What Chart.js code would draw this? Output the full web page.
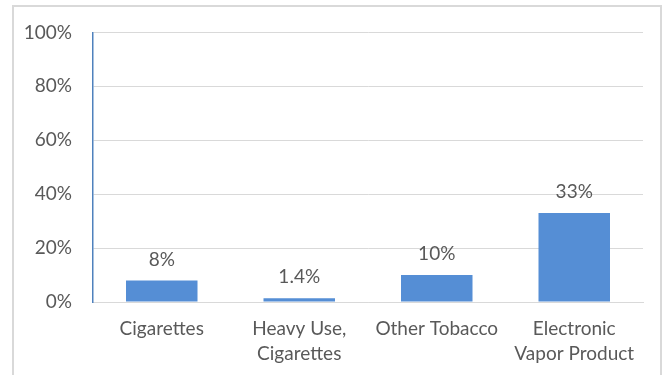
<!DOCTYPE html>
<html>
<head>
<meta charset="utf-8">
<script src="https://cdn.jsdelivr.net/npm/chart.js@4"></script>
<style>
  html, body { margin: 0; padding: 0; background: #fff; }
  #wrap { position: relative; width: 668px; height: 375px; overflow: hidden; }
  #frame { position: absolute; left: 12px; top: 5px; width: 650px; height: 400px; border: 2px solid #d9d9d9; box-sizing: border-box; }
  canvas { position: absolute; left: 0; top: 0; }
</style>
</head>
<body>
<div id="wrap">
  <div id="frame"></div>
  <canvas id="chart" width="668" height="375"></canvas>
</div>
<script>
const categories = ['Cigarettes', ['Heavy Use,', 'Cigarettes'], 'Other Tobacco', ['Electronic', 'Vapor Product']];
const values = [8, 1.4, 10, 33];
const valueLabels = ['8%', '1.4%', '10%', '33%'];
const yTicks = [0, 20, 40, 60, 80, 100];

const textColor = '#595959';
const fontFamily = 'Lato, "Liberation Sans", sans-serif';

// labels over the bars
const barLabels = {
  id: 'barLabels',
  afterDatasetsDraw(chart) {
    const ctx = chart.ctx;
    const meta = chart.getDatasetMeta(0);
    ctx.save();
    ctx.fillStyle = textColor;
    ctx.font = '19px ' + fontFamily;
    ctx.textAlign = 'center';
    ctx.textBaseline = 'middle';
    meta.data.forEach(function(bar, i) {
      ctx.fillText(valueLabels[i], bar.x, bar.y - 21);
    });
    ctx.restore();
  }
};

const ctx = document.getElementById('chart');
const myChart = new Chart(ctx, {
  type: 'bar',
  data: {
    labels: categories,
    datasets: [{
      data: values,
      backgroundColor: '#558ED5',
      barPercentage: 0.52,
      categoryPercentage: 1
    }]
  },
  options: {
    responsive: false,
    animation: false,
    layout: { padding: { top: 29, right: 25, left: 0, bottom: 0 } },
    plugins: { legend: { display: false }, tooltip: { enabled: false } },
    scales: {
      x: {
        grid: { display: false },
        border: { color: '#d9d9d9', width: 1 },
        ticks: { color: textColor, font: { family: fontFamily, size: 19, lineHeight: 1.32 }, padding: 6, maxRotation: 0, autoSkip: false },
        afterFit: function(s) { s.height = 73; }
      },
      y: {
        min: 0,
        max: 100,
        afterBuildTicks: function(s) { s.ticks = yTicks.map(v => ({ value: v })); },
        grid: { color: '#d9d9d9', lineWidth: 1, drawTicks: false },
        border: { color: '#4F81BD', width: 1.5 },
        ticks: { color: textColor, font: { family: fontFamily, size: 19 }, padding: 21, callback: v => v + '%' },
        afterFit: function(s) { s.width = 93; }
      }
    }
  },
  plugins: [barLabels]
});
</script>
</body>
</html>
